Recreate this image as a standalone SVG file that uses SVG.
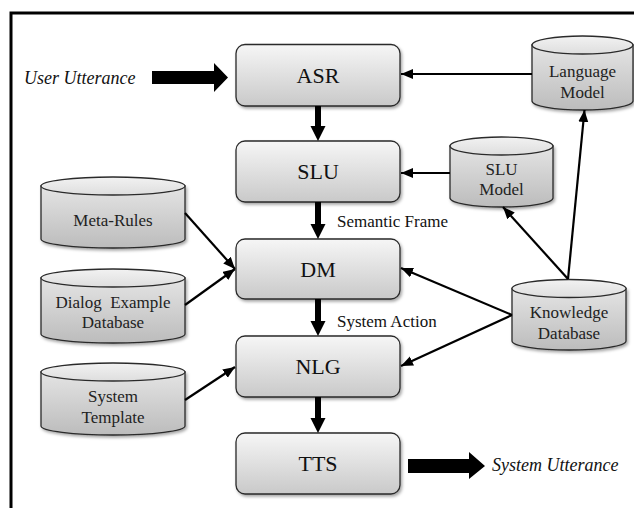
<svg xmlns="http://www.w3.org/2000/svg" width="634" height="508" viewBox="0 0 634 508" font-family="Liberation Serif, Tinos, DejaVu Serif, serif">
  <defs>
    <linearGradient id="boxFill" x1="0" y1="0" x2="0" y2="1">
      <stop offset="0" stop-color="#f6f6f6"/>
      <stop offset="1" stop-color="#c9c9c9"/>
    </linearGradient>
    <linearGradient id="cylBody" x1="0" y1="0" x2="0" y2="1">
      <stop offset="0" stop-color="#e4e4e4"/>
      <stop offset="1" stop-color="#bcbcbc"/>
    </linearGradient>
    <linearGradient id="cylTop" x1="0" y1="0" x2="0" y2="1">
      <stop offset="0" stop-color="#f2f2f2"/>
      <stop offset="1" stop-color="#dedede"/>
    </linearGradient>
    <filter id="shadow" x="-10%" y="-10%" width="125%" height="130%">
      <feDropShadow dx="1.5" dy="2" stdDeviation="1.5" flood-color="#000" flood-opacity="0.35"/>
    </filter>
    <marker id="head" markerUnits="userSpaceOnUse" markerWidth="13" markerHeight="11" refX="12" refY="5" orient="auto">
      <path d="M0,0 L12,5 L0,10 z" fill="#000"/>
    </marker>
  </defs>
  <style>
    .box { fill: url(#boxFill); stroke: #2a2a2a; stroke-width: 1.3; filter: url(#shadow); }
    .cyl { fill: url(#cylBody); stroke: #2a2a2a; stroke-width: 1.3; filter: url(#shadow); }
    .cyltop { fill: url(#cylTop); stroke: #2a2a2a; stroke-width: 1.3; }
    text { font-family: 'Liberation Serif', 'Tinos', 'DejaVu Serif', serif; }
    .big { font-size: 22px; fill: #111; text-anchor: middle; }
    .lbl { font-size: 17px; fill: #222; text-anchor: middle; }
    .note { font-size: 17px; fill: #111; }
    .io { font-size: 18px; font-style: italic; fill: #111; }
    .thin { stroke: #000; stroke-width: 2.2; fill: none; marker-end: url(#head); }
    .thick { fill: #000; }
  </style>

  <!-- outer frame -->
  <rect x="11" y="13" width="640" height="520" fill="#fff" stroke="#000" stroke-width="3"/>

  <!-- pipeline modules -->
  <g id="asr">
    <rect class="box" x="236" y="44.5" width="164" height="61.5" rx="9"/>
    <text class="big" x="318" y="83">ASR</text>
  </g>
  <g id="slu">
    <rect class="box" x="236" y="141" width="164" height="61" rx="9"/>
    <text class="big" x="318" y="179">SLU</text>
  </g>
  <g id="dm">
    <rect class="box" x="236" y="239" width="164" height="60" rx="9"/>
    <text class="big" x="318" y="277">DM</text>
  </g>
  <g id="nlg">
    <rect class="box" x="236" y="336" width="164" height="61" rx="9"/>
    <text class="big" x="318" y="374">NLG</text>
  </g>
  <g id="tts">
    <rect class="box" x="236" y="433" width="164" height="61" rx="9"/>
    <text class="big" x="318" y="471">TTS</text>
  </g>

  <!-- data stores -->
  <g id="language-model">
    <path class="cyl" d="M532,45 V101 A50.5,9 0 0 0 633,101 V45 Z"/>
    <ellipse class="cyltop" cx="582.5" cy="45" rx="50.5" ry="9"/>
    <text class="lbl" x="582.5" y="77">Language</text>
    <text class="lbl" x="582.5" y="98">Model</text>
  </g>
  <g id="slu-model">
    <path class="cyl" d="M450,146 V198 A51.5,9 0 0 0 553,198 V146 Z"/>
    <ellipse class="cyltop" cx="501.5" cy="146" rx="51.5" ry="9"/>
    <text class="lbl" x="501.5" y="175">SLU</text>
    <text class="lbl" x="501.5" y="195">Model</text>
  </g>
  <g id="knowledge-database">
    <path class="cyl" d="M512,288.5 V341 A57,9 0 0 0 626,341 V288.5 Z"/>
    <ellipse class="cyltop" cx="569" cy="288.5" rx="57" ry="9"/>
    <text class="lbl" x="569" y="318">Knowledge</text>
    <text class="lbl" x="569" y="339">Database</text>
  </g>
  <g id="meta-rules">
    <path class="cyl" d="M41,186 V239 A72,9 0 0 0 185,239 V186 Z"/>
    <ellipse class="cyltop" cx="113" cy="186" rx="72" ry="9"/>
    <text class="lbl" x="113" y="226">Meta-Rules</text>
  </g>
  <g id="dialog-example-database">
    <path class="cyl" d="M41,278 V334 A72,9 0 0 0 185,334 V278 Z"/>
    <ellipse class="cyltop" cx="113" cy="278" rx="72" ry="9"/>
    <text class="lbl" x="113" y="308" xml:space="preserve">Dialog  Example</text>
    <text class="lbl" x="113" y="328">Database</text>
  </g>
  <g id="system-template">
    <path class="cyl" d="M41,372 V426 A72,9 0 0 0 185,426 V372 Z"/>
    <ellipse class="cyltop" cx="113" cy="372" rx="72" ry="9"/>
    <text class="lbl" x="113" y="402">System</text>
    <text class="lbl" x="113" y="423">Template</text>
  </g>

  <!-- input / output -->
  <g id="user-utterance">
    <text class="io" x="24" y="84">User Utterance</text>
  </g>
  <g id="system-utterance">
    <text class="io" x="492" y="471">System Utterance</text>
  </g>

  <!-- connectors -->
  <g id="connectors">
    <!-- thick block arrows -->
    <path class="thick" d="M152,71 H214 V63 L228,77.5 L214,92 V84 H152 Z"/>
    <path class="thick" d="M408,459 H469 V452 L485,466 L469,479 V473 H408 Z"/>
    <path class="thick" d="M315,106 H321 V126 H325.5 L318,141 L310.5,126 H315 Z"/>
    <path class="thick" d="M315,202 H321 V224 H325.5 L318,239 L310.5,224 H315 Z"/>
    <path class="thick" d="M315,299 H321 V321 H325.5 L318,336 L310.5,321 H315 Z"/>
    <path class="thick" d="M315,397 H321 V418 H325.5 L318,433 L310.5,418 H315 Z"/>

    <!-- labels on the flow -->
    <text class="note" x="337" y="227">Semantic Frame</text>
    <text class="note" x="337" y="327">System Action</text>

    <!-- thin arrows -->
    <line class="thin" x1="532" y1="74" x2="401" y2="74"/>
    <line class="thin" x1="450" y1="173" x2="401" y2="173"/>
    <line class="thin" x1="568" y1="279" x2="584.5" y2="110"/>
    <line class="thin" x1="568" y1="279" x2="503" y2="207"/>
    <line class="thin" x1="512" y1="315" x2="401" y2="268"/>
    <line class="thin" x1="512" y1="315" x2="401" y2="366"/>
    <line class="thin" x1="185" y1="213" x2="235" y2="269"/>
    <line class="thin" x1="185" y1="305" x2="235" y2="269"/>
    <line class="thin" x1="185" y1="400" x2="235" y2="367"/>
  </g>
</svg>
